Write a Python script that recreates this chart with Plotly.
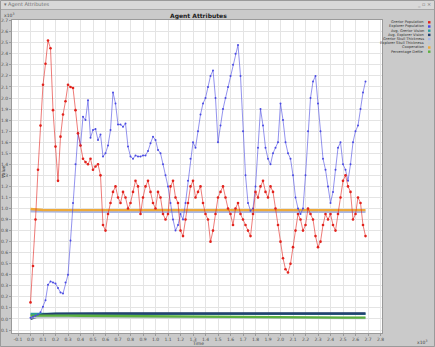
import numpy as np
import plotly.graph_objects as go

W, H = 435, 347
L, R, T, B = 12, 53, 20, 14          # plot box: x 12..382, y 20..333
PW, PH = W - L - R, H - T - B

# ---------------- data (time and values in thousands) ----------------
series_names = ["Grerior Population", "Explorer Population", "Avg. Grerior Vision",
                "Avg. Explorer Vision", "Grerior Skull Thickness", "Explorer Skull Thickness",
                "Cooperation", "Percentage Defile"]
series_colors = ["#e2221c", "#4a4ae2", "#2aa0a0", "#24406e", "#a8b8e8", "#c0c8d0",
                 "#eeaa3a", "#5cb040"]

t_step = 0.02
grerior_pop = [0.15, 0.48, 0.90, 1.35, 1.75, 2.12, 2.31, 2.52, 2.45, 1.89,
               1.56, 1.25, 1.65, 1.85, 1.97, 2.12, 2.10, 2.09, 1.89, 1.68,
               1.57, 1.45, 1.42, 1.40, 1.45, 1.35, 1.38, 1.40, 1.30, 0.85,
               0.80, 0.95, 1.05, 1.15, 1.20, 1.10, 1.05, 1.15, 1.10, 1.00,
               1.05, 1.15, 1.25, 1.20, 0.95, 1.10, 1.20, 1.25, 1.15, 1.05,
               1.00, 1.15, 1.10, 0.95, 0.90, 0.95, 1.20, 1.25, 1.10, 1.05,
               0.80, 0.75, 0.90, 1.05, 1.20, 1.25, 1.10, 1.15, 1.20, 1.05,
               0.95, 0.90, 0.70, 0.80, 0.95, 1.10, 1.15, 1.20, 1.10, 1.00,
               0.95, 0.85, 1.00, 1.05, 0.95, 0.90, 0.85, 0.80, 0.75, 0.95,
               1.15, 1.10, 1.20, 1.25, 1.15, 1.10, 1.20, 1.15, 1.00, 0.85,
               0.70, 0.55, 0.45, 0.42, 0.50, 0.65, 0.80, 0.95, 0.90, 0.80,
               0.85, 1.00, 0.95, 0.90, 0.75, 0.65, 0.70, 0.85, 0.95, 0.90,
               0.95, 0.85, 0.80, 0.95, 1.10, 1.25, 1.30, 1.20, 1.15, 0.90,
               0.95, 1.10, 1.05, 0.85, 0.75]
explorer_pop = [0.01, 0.02, 0.03, 0.04, 0.06, 0.11, 0.17, 0.31, 0.34, 0.33,
                0.32, 0.28, 0.24, 0.23, 0.33, 0.40, 0.71, 1.05, 1.40, 1.68,
                1.57, 1.83, 1.80, 1.98, 1.64, 1.71, 1.72, 1.62, 1.67, 1.47,
                1.50, 1.57, 1.71, 2.05, 1.95, 1.76, 1.76, 1.74, 1.77, 1.56,
                1.47, 1.45, 1.48, 1.47, 1.47, 1.48, 1.48, 1.52, 1.59, 1.65,
                1.62, 1.53, 1.50, 1.40, 1.30, 1.20, 1.05, 0.90, 0.80, 0.85,
                0.95, 0.90, 1.05, 1.25, 1.45, 1.60, 1.55, 1.70, 1.85, 1.95,
                2.00, 2.10, 2.20, 2.25, 2.00, 1.60, 1.75, 1.90, 2.00, 2.10,
                2.20, 2.30, 2.40, 2.48, 2.20, 1.70, 1.30, 1.05, 0.98, 1.00,
                1.20, 1.55, 1.90, 1.75, 1.55, 1.45, 1.40, 1.50, 1.55, 1.60,
                1.95, 1.80, 1.60, 1.50, 1.45, 1.30, 1.10, 1.00, 0.95, 1.00,
                1.30, 1.70, 2.00, 2.15, 2.20, 1.95, 1.70, 1.45, 1.35, 1.20,
                1.05, 1.15, 1.35, 1.55, 1.60, 1.40, 1.35, 1.25, 1.40, 1.60,
                1.70, 1.75, 1.90, 2.05, 2.15]

t_flat = [0.0, 0.1, 0.2, 0.3, 0.4, 0.5, 0.6, 0.7, 0.8, 0.9, 1.0, 1.1, 1.2, 1.3,
          1.4, 1.5, 1.6, 1.7, 1.8, 1.9, 2.0, 2.1, 2.2, 2.3, 2.4, 2.5, 2.6, 2.68]
avg_grerior_vision = [0.045, 0.046, 0.046, 0.046, 0.046, 0.046, 0.046, 0.046, 0.046,
                      0.046, 0.046, 0.046, 0.046, 0.046, 0.046, 0.046, 0.046, 0.046,
                      0.046, 0.046, 0.046, 0.046, 0.046, 0.046, 0.046, 0.046, 0.046,
                      0.046]
avg_explorer_vision = [0.002, 0.040, 0.048, 0.050, 0.050, 0.050, 0.050, 0.050, 0.050,
                       0.050, 0.050, 0.050, 0.050, 0.050, 0.050, 0.050, 0.050, 0.050,
                       0.050, 0.050, 0.050, 0.050, 0.050, 0.050, 0.050, 0.050, 0.050,
                       0.050]
grerior_skull = [0.975, 0.972, 0.972, 0.972, 0.971, 0.971, 0.971, 0.971, 0.971, 0.971,
                 0.971, 0.971, 0.971, 0.971, 0.971, 0.971, 0.971, 0.971, 0.971, 0.971,
                 0.971, 0.971, 0.971, 0.971, 0.971, 0.971, 0.971, 0.971]
explorer_skull = [0.015, 0.020, 0.020, 0.019, 0.019, 0.018, 0.018, 0.017, 0.017, 0.016,
                  0.016, 0.015, 0.015, 0.014, 0.014, 0.013, 0.013, 0.012, 0.012, 0.011,
                  0.011, 0.010, 0.010, 0.010, 0.009, 0.009, 0.009, 0.009]
cooperation = [0.995, 0.986, 0.985, 0.985, 0.985, 0.985, 0.985, 0.985, 0.985, 0.985,
               0.985, 0.985, 0.985, 0.985, 0.985, 0.985, 0.985, 0.985, 0.985, 0.985,
               0.985, 0.985, 0.985, 0.985, 0.985, 0.985, 0.985, 0.985]
percentage_defile = [0.030, 0.032, 0.031, 0.030, 0.029, 0.028, 0.027, 0.026, 0.025, 0.024,
                     0.023, 0.022, 0.021, 0.020, 0.019, 0.018, 0.017, 0.016, 0.016, 0.015,
                     0.015, 0.014, 0.014, 0.013, 0.013, 0.012, 0.012, 0.012]

x_ticks = [round(-0.1 + 0.1 * i, 1) for i in range(30)]
y_ticks = [round(-0.1 + 0.1 * i, 1) for i in range(29)]

t_main = np.arange(len(grerior_pop)) * t_step

# ---------------- figure ----------------
fig = go.Figure()

flat = [(avg_grerior_vision, 2), (avg_explorer_vision, 3), (grerior_skull, 4),
        (explorer_skull, 5), (cooperation, 6), (percentage_defile, 7)]
for vals, idx in flat:
    fig.add_trace(go.Scatter(x=t_flat, y=vals, mode="lines", name=series_names[idx],
                             line=dict(color=series_colors[idx], width=2.4)))

fig.add_trace(go.Scatter(x=t_main, y=explorer_pop, mode="lines+markers",
                         name=series_names[1],
                         line=dict(color=series_colors[1], width=0.6),
                         marker=dict(color=series_colors[1], size=2.0)))
fig.add_trace(go.Scatter(x=t_main, y=grerior_pop, mode="lines+markers",
                         name=series_names[0],
                         line=dict(color=series_colors[0], width=0.6),
                         marker=dict(color=series_colors[0], size=2.6)))

FONT = "DejaVu Sans"
axis_common = dict(showgrid=True, gridcolor="#e4e4e4", gridwidth=1, zeroline=False,
                   showline=True, linecolor="#9a9a9a", linewidth=1, ticks="outside",
                   ticklen=2, tickcolor="#9a9a9a", automargin=False,
                   tickfont=dict(family=FONT, size=4.5, color="#505050"), mirror=True)
fig.update_layout(
    width=W, height=H, margin=dict(l=L, r=R, t=T, b=B, pad=0, autoexpand=False),
    paper_bgcolor="#cacaca", plot_bgcolor="#ffffff", showlegend=False,
    xaxis=dict(range=[-0.148, 2.812], tickvals=x_ticks,
               ticktext=[f"{v:.1f}" for v in x_ticks], **axis_common),
    yaxis=dict(range=[-0.127, 2.706], tickvals=y_ticks,
               ticktext=[f"{v:.1f}" for v in y_ticks], **axis_common),
)

def px_x(px):
    return (px - L) / PW

def px_y(py):
    return (H - B - py) / PH

shapes = []
ann = []
# window title bar and frame
shapes.append(dict(type="rect", xref="paper", yref="paper", x0=px_x(0), x1=px_x(W),
                   y0=px_y(9.5), y1=px_y(0), fillcolor="#d8d8d8", line=dict(width=0), layer="below"))
shapes.append(dict(type="line", xref="paper", yref="paper", x0=px_x(0), x1=px_x(W),
                   y0=px_y(9.5), y1=px_y(9.5), line=dict(color="#a8a8a8", width=1)))
shapes.append(dict(type="rect", xref="paper", yref="paper", x0=px_x(0.5), x1=px_x(W - 0.5),
                   y0=px_y(H - 0.5), y1=px_y(0.5), line=dict(color="#9a9a9a", width=1)))
ann.append(dict(x=px_x(2), y=px_y(5), xref="paper", yref="paper", xanchor="left",
                yanchor="middle", showarrow=False, text="▾ Agent Attributes",
                font=dict(family=FONT, size=5, color="#707070")))
ann.append(dict(x=px_x(433), y=px_y(5), xref="paper", yref="paper", xanchor="right",
                yanchor="middle", showarrow=False, text="_ ▫ ×",
                font=dict(family=FONT, size=5, color="#707070")))
# chart title
ann.append(dict(x=px_x(198), y=px_y(15.5), xref="paper", yref="paper", xanchor="center",
                yanchor="middle", showarrow=False, text="<b>Agent Attributes</b>",
                font=dict(family=FONT, size=6, color="#202020")))
# axis titles and exponents
ann.append(dict(x=px_x(198), y=px_y(343), xref="paper", yref="paper", xanchor="center",
                yanchor="middle", showarrow=False, text="Time",
                font=dict(family=FONT, size=4.5, color="#404040")))
ann.append(dict(x=px_x(3), y=px_y(172), xref="paper", yref="paper", xanchor="center",
                yanchor="middle", showarrow=False, text="Value", textangle=-90,
                font=dict(family=FONT, size=4.5, color="#404040")))
ann.append(dict(x=px_x(9), y=px_y(15), xref="paper", yref="paper", xanchor="center",
                yanchor="middle", showarrow=False, text="x10<sup>3</sup>",
                font=dict(family=FONT, size=4.5, color="#404040")))
ann.append(dict(x=px_x(422), y=px_y(342), xref="paper", yref="paper", xanchor="center",
                yanchor="middle", showarrow=False, text="x10<sup>3</sup>",
                font=dict(family=FONT, size=4.5, color="#404040")))
# legend (right-aligned labels with swatches on the right)
for i, (name, col) in enumerate(zip(series_names, series_colors)):
    yy = 22.3 + i * 4.2
    ann.append(dict(x=px_x(426), y=px_y(yy), xref="paper", yref="paper", xanchor="right",
                    yanchor="middle", showarrow=False, text=name,
                    font=dict(family=FONT, size=3.6, color="#303030")))
    shapes.append(dict(type="rect", xref="paper", yref="paper", x0=px_x(428), x1=px_x(430.5),
                       y0=px_y(yy + 1.2), y1=px_y(yy - 1.2), fillcolor=col,
                       line=dict(width=0)))

fig.update_layout(shapes=shapes, annotations=ann)
fig.write_html("out.html")
